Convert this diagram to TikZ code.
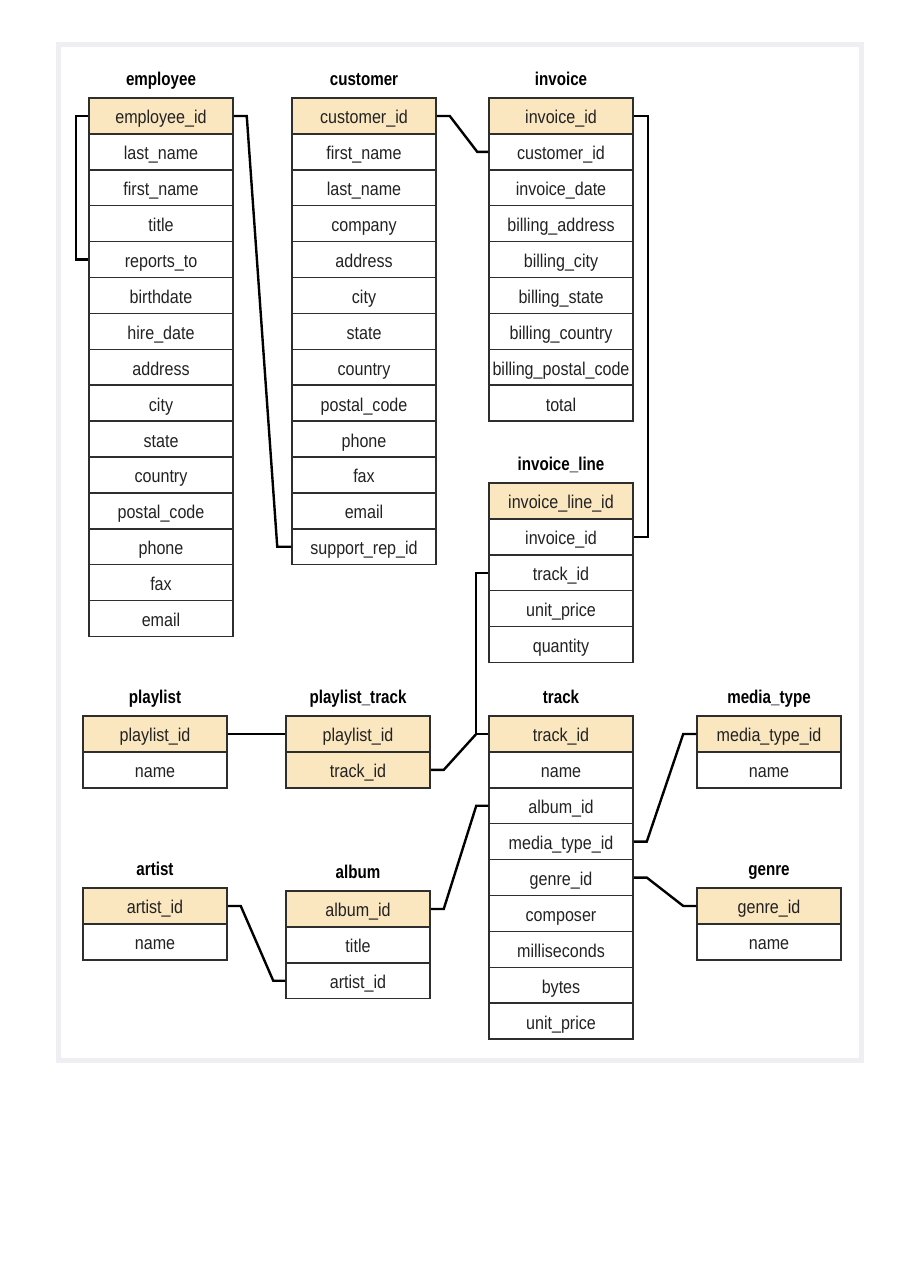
\documentclass[tikz,border=0pt]{standalone}
\usepackage{fontspec}
\setmainfont{Liberation Sans}[FakeStretch=0.87]
\newfontfamily\titlefont{Liberation Sans}[FakeStretch=0.82]
\definecolor{keyfill}{HTML}{FAE6BF}
\definecolor{cellline}{HTML}{2E2E2E}
\definecolor{celltext}{HTML}{222222}
\definecolor{framegray}{HTML}{EFEFF3}
\tikzset{
  cell/.style={draw=cellline, line width=1.5pt, minimum width=144pt, minimum height=35.9pt,
    inner sep=0pt, text height=16pt, text depth=0pt, font=\fontsize{18.5}{20}\selectfont, text=celltext},
  tabtitle/.style={anchor=base, inner sep=0pt, font=\titlefont\bfseries\fontsize{18.5}{20}\selectfont},
  link/.style={draw=black, line width=2.4pt}
}
\newcommand\mktable[6]{%
  \node[tabtitle] (#1-t) at ({#2+72},{#3-12.5}) {#4};
  \foreach \r [count=\i] in {#6} {
    \ifnum\i>#5 \def\fc{white}\else\def\fc{keyfill}\fi
    \node[cell, fill=\fc] (#1-\i) at ({#2+72},{#3+(\i-0.5)*35.9}) {\r};
  }
}
\begin{document}
\begin{tikzpicture}[x=1pt, y=-1pt]
\useasboundingbox (0,0) rectangle (905,1280);
\fill[white] (0,0) rectangle (905,1280);
\draw[framegray, line width=5pt] (58.5,44.5) rectangle (861.5,1060.5);

\mktable{emp}{89}{98}{employee}{1}{employee\_id,last\_name,first\_name,title,reports\_to,birthdate,hire\_date,address,city,state,country,postal\_code,phone,fax,email}
\mktable{cus}{292}{98}{customer}{1}{customer\_id,first\_name,last\_name,company,address,city,state,country,postal\_code,phone,fax,email,support\_rep\_id}
\mktable{inv}{489}{98}{invoice}{1}{invoice\_id,customer\_id,invoice\_date,billing\_address,billing\_city,billing\_state,billing\_country,billing\_postal\_code,total}
\mktable{il}{489}{483}{invoice\_line}{1}{invoice\_line\_id,invoice\_id,track\_id,unit\_price,quantity}
\mktable{pl}{83}{716}{playlist}{1}{playlist\_id,name}
\mktable{pt}{286}{716}{playlist\_track}{2}{playlist\_id,track\_id}
\mktable{trk}{489}{716}{track}{1}{track\_id,name,album\_id,media\_type\_id,genre\_id,composer,milliseconds,bytes,unit\_price}
\mktable{mt}{697}{716}{media\_type}{1}{media\_type\_id,name}
\mktable{art}{83}{888}{artist}{1}{artist\_id,name}
\mktable{alb}{286}{891}{album}{1}{album\_id,title,artist\_id}
\mktable{gen}{697}{888}{genre}{1}{genre\_id,name}

% connectors
\draw[link] (emp-1.west) -- ++(-12,0) |- (emp-5.west);
\draw[link] (emp-1.east) -- ++(13,0) -- ([xshift=-14pt]cus-13.west) -- (cus-13.west);
\draw[link] (cus-1.east) -- ++(13,0) -- ([xshift=-11pt]inv-2.west) -- (inv-2.west);
\draw[link] (inv-1.east) -- ++(14,0) |- (il-2.east);
\draw[link] (il-3.west) -- ++(-12,0) |- (trk-1.west);
\draw[link] (pt-2.east) -- ++(13,0) -- ([xshift=-12pt]trk-1.west);
\draw[link] (pl-1.east) -- (pt-1.west);
\draw[link] (alb-1.east) -- ++(13,0) -- ([xshift=-12pt]trk-3.west) -- (trk-3.west);
\draw[link] (art-1.east) -- ++(13,0) -- ([xshift=-12pt]alb-3.west) -- (alb-3.west);
\draw[link] (trk-4.east) -- ++(13,0) -- ([xshift=-13pt]mt-1.west) -- (mt-1.west);
\draw[link] (trk-5.east) -- ++(13,0) -- ([xshift=-13pt]gen-1.west) -- (gen-1.west);
\end{tikzpicture}
\end{document}
